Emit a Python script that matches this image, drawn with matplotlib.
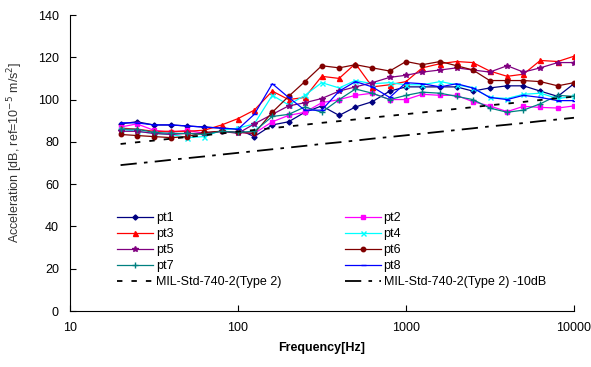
import matplotlib
matplotlib.use("Agg")
import matplotlib.pyplot as plt
from matplotlib.ticker import FixedLocator, NullLocator

plt.rcParams['font.family'] = ['Liberation Sans', 'DejaVu Sans']

# 1/3-octave band centre frequencies [Hz]
freq = [20, 25, 31.5, 40, 50, 63, 80, 100, 125, 160, 200, 250, 315, 400,
        500, 630, 800, 1000, 1250, 1600, 2000, 2500, 3150, 4000, 5000,
        6300, 8000, 10000]

pt1 = [88.5, 89.5, 88, 88, 87.5, 87, 86.5, 86, 82.5, 88, 89.5, 94, 97, 92.5,
       96.5, 99, 104, 106, 106, 106, 106, 104, 105.5, 106.5, 106.5, 104, 101.5, 107.5]
pt2 = [87, 88.5, 85.5, 84.5, 85.5, 84, 85, 84.5, 84, 89.5, 92.5, 94, 98.5, 100,
       102, 103, 100, 100, 102.5, 102, 102, 99, 97, 94.3, 96.8, 96.3, 96, 97]
pt3 = [86.5, 86, 85, 85, 85, 85.5, 88, 91, 95, 104, 100, 101, 111, 110,
       117, 106, 107, 108.5, 115, 117, 118, 117.5, 113.5, 111, 112, 118.5, 118, 120.5]
pt4 = [86, 85, 84, 83.5, 82, 82.5, 85.5, 86.5, 88.5, 102, 97.5, 102, 108, 105.5,
       109, 107.5, 108, 107, 107, 108.5, 107, 105.5, 101, 100.5, 102.5, 103, 100.5, 101.5]
pt5 = [85, 85, 84, 83.5, 84, 84, 85, 84, 88.5, 93, 97, 98.5, 100.5, 104,
       106, 108, 110.5, 111.5, 113, 114, 115, 114, 113, 116, 113, 115, 117.5, 117.5]
pt6 = [83.5, 83, 82.5, 82, 82.5, 84.5, 85, 84.5, 84, 94, 101.5, 108.5, 116, 115,
       116.5, 115, 113.5, 118, 116.5, 118, 116, 114, 109, 109, 109, 108.5, 106.5, 108]
pt7 = [86, 86, 84.5, 84, 84, 83.5, 85, 84.5, 85, 92, 93, 96.5, 94, 100,
       105, 103, 100, 102, 103.5, 103, 101.5, 100, 96, 94, 95, 98, 102, 101.5]
pt8 = [89, 89, 88, 88, 87.5, 87, 86.5, 86, 93, 107.5, 101, 95, 95, 104,
       108.5, 106, 101, 108, 107.5, 106, 107.5, 105.5, 101, 100, 102, 101, 99.5, 99.5]

# MIL-STD-740-2 Type II limit and the same limit lowered by 10 dB
mil_type2 = [79.0, 79.8, 80.6, 81.5, 82.3, 83.1, 84.0, 84.8, 85.6, 86.5, 87.3,
             88.1, 89.0, 89.8, 90.6, 91.5, 92.3, 93.1, 93.9, 94.8, 95.6, 96.4,
             97.3, 98.1, 98.9, 99.8, 100.6, 101.4]
mil_type2_m10 = [69.0, 69.8, 70.6, 71.5, 72.3, 73.1, 74.0, 74.8, 75.6, 76.5, 77.3,
                 78.1, 79.0, 79.8, 80.6, 81.5, 82.3, 83.1, 83.9, 84.8, 85.6, 86.4,
                 87.3, 88.1, 88.9, 89.8, 90.6, 91.4]

x_ticks = [10, 100, 1000, 10000]
x_ticklabels = ["10", "100", "1000", "10000"]
y_ticks = [0, 20, 40, 60, 80, 100, 120, 140]

fig = plt.figure(figsize=(5.91, 3.67), dpi=100)
ax = fig.add_axes([70 / 591, 1 - 311 / 367, 504 / 591, 296 / 367])

series = [
    ("pt1", pt1, "#000080", "D", 2.6),
    ("pt2", pt2, "#FF00FF", "s", 3.2),
    ("pt3", pt3, "#FF0000", "^", 3.6),
    ("pt4", pt4, "#00FFFF", "x", 3.6),
    ("pt5", pt5, "#800080", "*", 4.2),
    ("pt6", pt6, "#800000", "o", 3.2),
    ("pt7", pt7, "#008080", "+", 4.2),
    ("pt8", pt8, "#0000FF", "_", 3.6),
]

handles = {}
for name, vals, color, mk, ms in series:
    h, = ax.plot(freq, vals, color=color, lw=0.9, marker=mk, ms=ms,
                 mfc=color, mec=color, mew=1.0, label=name)
    handles[name] = h

h_mil, = ax.plot(freq, mil_type2, color="black", lw=1.3,
                 linestyle=(0, (3, 5)), label="MIL-Std-740-2(Type 2)")
h_mil10, = ax.plot(freq, mil_type2_m10, color="black", lw=1.3,
                   linestyle=(0, (9, 4, 2, 4)), label="MIL-Std-740-2(Type 2) -10dB")

ax.set_xscale("log")
ax.set_xlim(10, 10000)
ax.set_ylim(0, 140)
ax.xaxis.set_major_locator(FixedLocator(x_ticks))
ax.xaxis.set_minor_locator(NullLocator())
ax.set_xticklabels(x_ticklabels)
ax.set_yticks(y_ticks)

for side in ("top", "right"):
    ax.spines[side].set_visible(False)
for side in ("left", "bottom"):
    ax.spines[side].set_linewidth(0.8)
ax.tick_params(axis="both", direction="in", length=4, width=0.8,
               labelsize=9, colors="black")
ax.tick_params(axis="x", pad=8)
ax.tick_params(axis="y", pad=8)

ax.set_xlabel("Frequency[Hz]", fontsize=9, fontweight="bold", labelpad=6)
fig.text(15 / 591, 1 - 152 / 367,
         r"Acceleration [dB, ref=10$^{-5}$ m/s$^2$]",
         rotation=90, ha="center", va="center", fontsize=9, color="#333333")

order_left = ["pt1", "pt3", "pt5", "pt7"]
order_right = ["pt2", "pt4", "pt6", "pt8"]
leg_handles = [handles[k] for k in order_left] + [h_mil] + \
              [handles[k] for k in order_right] + [h_mil10]
leg = ax.legend(leg_handles, [h.get_label() for h in leg_handles],
                ncol=2, loc="upper left", bbox_to_anchor=(47 / 504, 1 - 197 / 296),
                frameon=False, fontsize=9, handlelength=2.9, handletextpad=0.2,
                columnspacing=5.1, labelspacing=0.32, borderaxespad=0,
                borderpad=0)

fig.savefig("out.png", dpi=100)
